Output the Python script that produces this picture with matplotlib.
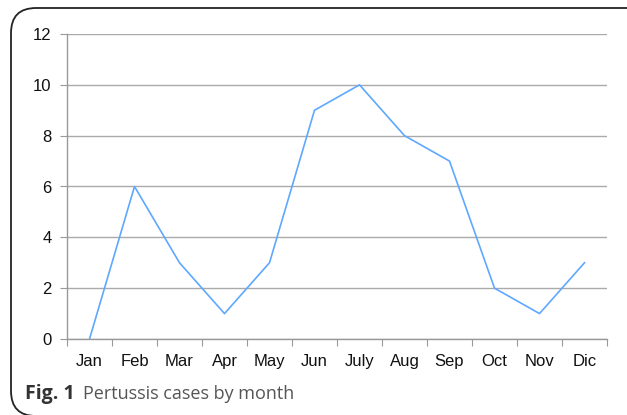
import numpy as np
import matplotlib
matplotlib.use('Agg')
from matplotlib import pyplot as plt
from matplotlib.patches import FancyBboxPatch

# monthly pertussis cases
months = ['Jan', 'Feb', 'Mar', 'Apr', 'May', 'Jun', 'July', 'Aug', 'Sep', 'Oct', 'Nov', 'Dic']
cases = [0, 6, 3, 1, 3, 9, 10, 8, 7, 2, 1, 3]
yticks = [0, 2, 4, 6, 8, 10, 12]

W, H = 627, 415
fig = plt.figure(figsize=(W / 100, H / 100), dpi=100)

# rounded frame around the whole figure (right and bottom run off the image)
frame = FancyBboxPatch((11 / W, -1 / H), (W + 20) / W, (H - 8 + 1) / H,
                       boxstyle='round,pad=0,rounding_size=0.04',
                       transform=fig.transFigure, fill=False,
                       edgecolor='#222222', linewidth=1.3, mutation_aspect=W / H)
fig.patches.append(frame)

ax = fig.add_axes([67 / W, 1 - 339 / H, 540 / W, 305 / H])
x = np.arange(len(months)) + 0.5
ax.plot(x, cases, color='#5ea8ff', linewidth=1.2)

ax.set_xlim(0, len(months))
ax.set_ylim(0, 12)
ax.set_yticks(yticks)
ax.set_yticklabels([str(v) for v in yticks], fontsize=12, family='Liberation Sans', color='#111111')
ax.set_xticks(np.arange(len(months) + 1))
ax.set_xticklabels([])
ax.set_xticks(x, minor=True)
ax.set_xticklabels(months, minor=True, fontsize=12, family='Liberation Sans', color='#111111')
ax.tick_params(axis='x', which='minor', length=0, pad=11)
ax.tick_params(axis='x', which='major', length=5, color='#999999', direction='out')
ax.tick_params(axis='y', length=5, color='#999999', pad=6)

ax.grid(axis='y', color='#aaaaaa', linewidth=1)
ax.set_axisbelow(True)
for s in ['top', 'right']:
    ax.spines[s].set_visible(False)
for s in ['left', 'bottom']:
    ax.spines[s].set_color('#999999')
    ax.spines[s].set_linewidth(1)

# caption: bold label then plain text right after it
t1 = fig.text(25 / W, 1 - 394 / H, 'Fig. 1', fontsize=14, fontweight='bold',
              family='Open Sans', color='#333333', va='center')
fig.canvas.draw()
bb = t1.get_window_extent()
fig.text((bb.x1 + 8) / W, 1 - 394 / H, 'Pertussis cases by month', fontsize=13,
         family='Open Sans', color='#555555', va='center')

fig.savefig('out.png', dpi=100)
